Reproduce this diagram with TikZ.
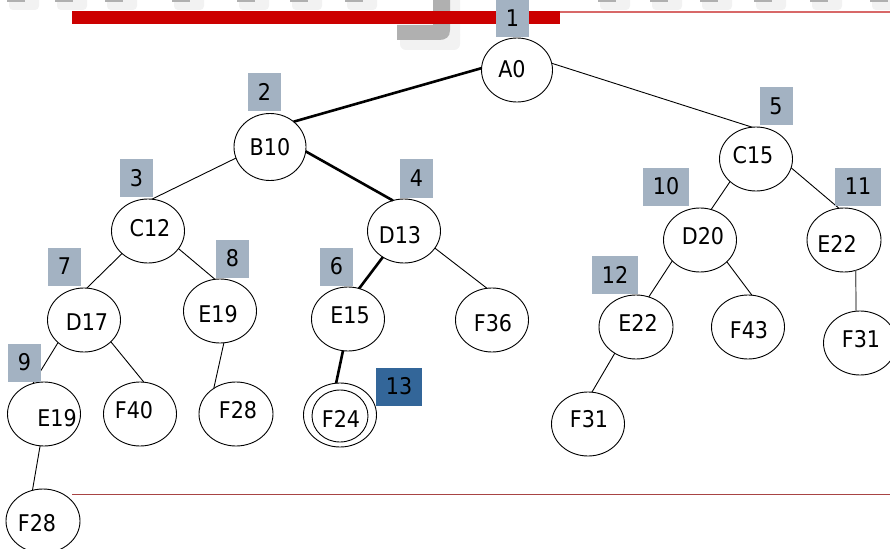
\documentclass[tikz,border=0pt]{standalone}
\usepackage{fontspec}
\setmainfont{DejaVu Sans Condensed}
\usetikzlibrary{shapes.geometric}
\definecolor{tagfill}{HTML}{A3B2C2}
\definecolor{tagdark}{HTML}{336699}
\definecolor{barred}{HTML}{CC0000}
\definecolor{rulered}{HTML}{D86868}
\definecolor{rulebottom}{HTML}{A84444}
\definecolor{wmgray}{HTML}{B0B0B0}
\definecolor{wmshade}{HTML}{F2F2F2}

\begin{document}
\begin{tikzpicture}[x=1pt,y=-1pt,
  ell/.style={ellipse,draw,line width=0.9pt,minimum width=73pt,minimum height=64pt,inner sep=0pt,outer sep=0pt},
  txt/.style={inner sep=0pt,font=\fontsize{23}{27}\selectfont},
  edge/.style={line width=0.9pt},
  hot/.style={line width=2.6pt},
  tag/.style={fill=tagfill,inner sep=0pt,minimum width=33pt,minimum height=38pt,font=\fontsize{23}{27}\selectfont},
  wtag/.style={tag,minimum width=46pt}]
\useasboundingbox (0,0) rectangle (890,548);

% faint title strokes along the top edge
\foreach \x in {7,55,105,172,237,290,345,598,650,700,754,810,870}{
  \fill[wmshade,rounded corners=4pt] (\x+2,-5) rectangle (\x+32,10);
  \fill[wmgray] (\x,0) rectangle (\x+18,2.5);
}
% descender of the faded title letter
\fill[wmshade,rounded corners=6pt] (400,28) -- (460,28) -- (460,50) -- (400,50) -- cycle;
\fill[wmshade,rounded corners=4pt] (448,-5) rectangle (460,40);
\fill[wmgray] (433,0) -- (450,0) -- (450,30) .. controls (450,37) and (446,40) .. (439,40)
  -- (397,40) -- (397,25) -- (433,25) -- cycle;

% title bar and rules
\fill[barred] (72,11) rectangle (560,24);
\draw[rulered,line width=1.2pt] (560,12) -- (890,12);
\draw[rulebottom,line width=0.8pt] (72,494) -- (890,494);

% tree nodes
\node[ell,minimum width=71pt] (a0) at (517,70) {};
\node[txt] (a0t) at (512,69) {A0};
\node[ell,minimum width=72pt,minimum height=67pt] (b10) at (270,147) {};
\node[txt] (b10t) at (270,147) {B10};
\node[ell] (c12) at (148,231) {};
\node[txt] (c12t) at (150,228) {C12};
\node[ell] (d13) at (404,231) {};
\node[txt] (d13t) at (400,235) {D13};
\node[ell] (c15) at (756,159) {};
\node[txt] (c15t) at (753,155) {C15};
\node[ell] (d20) at (700,240) {};
\node[txt] (d20t) at (703,236) {D20};
\node[ell,minimum width=74pt] (e22r) at (844,240) {};
\node[txt] (e22rt) at (837,244) {E22};
\node[ell] (d17) at (84,320) {};
\node[txt] (d17t) at (87,322) {D17};
\node[ell] (e19) at (220,311) {};
\node[txt] (e19t) at (218,314) {E19};
\node[ell] (e15) at (348,319) {};
\node[txt] (e15t) at (350,315) {E15};
\node[ell] (f36) at (492,320) {};
\node[txt] (f36t) at (493,323) {F36};
\node[ell,minimum width=74pt] (e22m) at (636,327) {};
\node[txt] (e22mt) at (638,323) {E22};
\node[ell] (f43) at (748,327) {};
\node[txt] (f43t) at (749,330) {F43};
\node[ell] (f31r) at (860,343) {};
\node[txt] (f31rt) at (861,339) {F31};
\node[ell] (e19b) at (44,414) {};
\node[txt] (e19bt) at (57,418) {E19};
\node[ell] (f40) at (140,414) {};
\node[txt] (f40t) at (134,410) {F40};
\node[ell,minimum width=74pt] (f28) at (236,414) {};
\node[txt] (f28t) at (238,410) {F28};
\node[ell] (f24) at (340,415) {};
\node[ell,minimum width=56pt,minimum height=52pt] (f24in) at (340,416) {};
\node[txt] (f24t) at (341,419) {F24};
\node[ell] (f31m) at (588,424) {};
\node[txt] (f31mt) at (589,419) {F31};
\node[ell,minimum width=74pt] (f28b) at (43,521) {};
\node[txt] (f28bt) at (37,523) {F28};

% connectors; the thick ones trace the path A0 -> F24
\draw[hot] (a0.177) -- (b10.47);
\draw[edge] (a0.11) -- (c15.97);
\draw[edge] (b10.198) -- (c12.83);
\draw[hot] (b10.-7) -- (d13.110);
\draw[edge] (c12.221) -- (d17.85);
\draw[edge] (c12.-30) -- (e19.99);
\draw[hot] (d13.231) -- (e15.70);
\draw[edge] (d13.-29) -- (f36.99);
\draw[edge] (c15.221) -- (d20.70);
\draw[edge] (c15.-14) -- (e22r.99);
\draw[edge] (d17.221) -- (e19b.110);
\draw[edge] (d17.-39) -- (f40.83);
\draw[edge] (e19.-83) -- (f28.131);
\draw[hot] (e15.-99) -- (f24.97);
\draw[edge] (d20.-143) -- (e22m.67);
\draw[edge] (d20.-39) -- (f43.83);
\draw[edge,black!60,line width=1.2pt] (e22r.-69) -- (f31r.97);
\draw[edge] (e22m.-129) -- (f31m.83);
\draw[edge] (e19b.-97) -- (f28b.109);

% visiting order tags
\node[tag,minimum height=37pt] (t1) at (512.5,18.5) {1};
\node[tag] (t2) at (264.5,92) {2};
\node[tag] (t3) at (136.5,178) {3};
\node[tag] (t4) at (416.5,178.5) {4};
\node[tag] (t5) at (776,106.5) {5};
\node[tag] (t6) at (336.5,266.5) {6};
\node[tag] (t7) at (64.5,266.5) {7};
\node[tag] (t8) at (232.5,258.5) {8};
\node[tag] (t9) at (24.5,362.5) {9};
\node[wtag] (t10) at (666,186.5) {10};
\node[wtag] (t11) at (858,186.5) {11};
\node[wtag] (t12) at (615,274.5) {12};
\node[wtag,fill=tagdark] (t13) at (399,386.5) {13};
\end{tikzpicture}
\end{document}
